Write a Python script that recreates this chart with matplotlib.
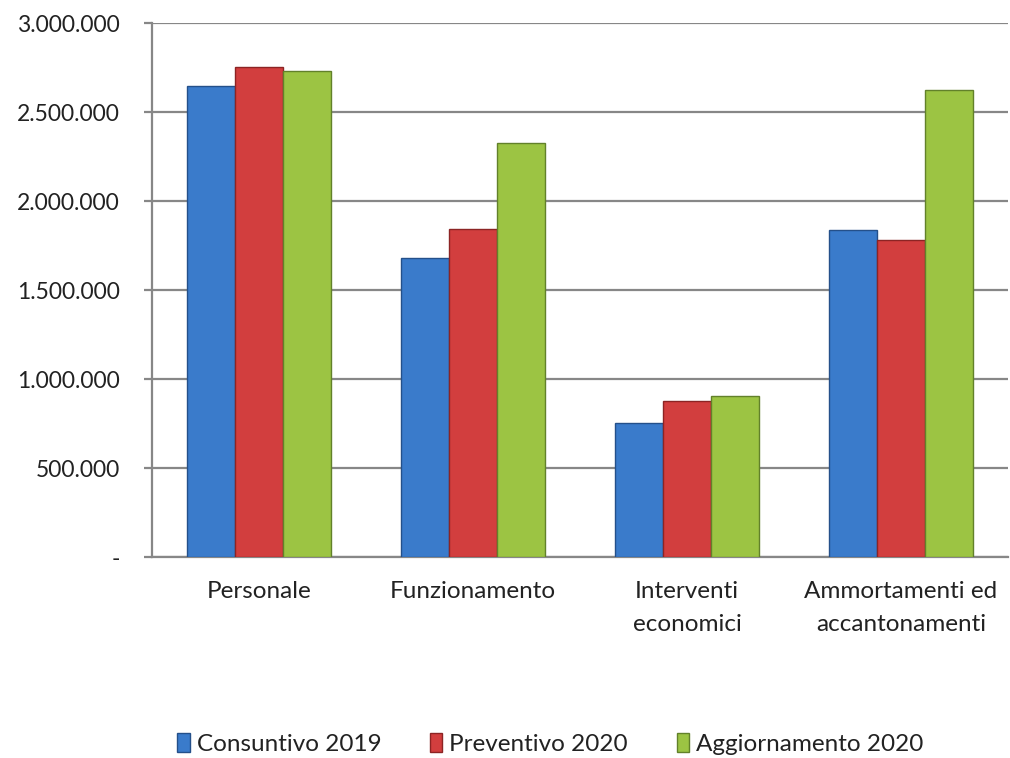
#bar chart: costi per categoria, consuntivo vs preventivo vs aggiornamento

#imports
import numpy as np
import matplotlib.pyplot as plt
from matplotlib.ticker import FuncFormatter

#data
categorie = ['Personale', 'Funzionamento', 'Interventi\neconomici', 'Ammortamenti ed\naccantonamenti']
consuntivo_2019 = [2644000, 1680000, 753000, 1837000]
preventivo_2020 = [2753000, 1845000, 875000, 1779000]
aggiornamento_2020 = [2730000, 2328000, 903000, 2622000]
serie = ['Consuntivo 2019', 'Preventivo 2020', 'Aggiornamento 2020']
colori = ['#3A7BCB', '#D23E3E', '#9CC443']
bordi = ['#24508A', '#8C2424', '#62812A']

plt.rcParams['font.family'] = ['Lato', 'DejaVu Sans']

fig = plt.figure (figsize = (10.1, 7.58), dpi = 100)
ax = fig.add_axes ([0.1505, 0.265, 0.8475, 0.7045])

x = np.arange (len (categorie))
w = 0.225
valori = [consuntivo_2019, preventivo_2020, aggiornamento_2020]
for i in range (3):
    ax.bar (x + (i - 1) * w, valori[i], width = w, color = colori[i], edgecolor = bordi[i],
            linewidth = 1, label = serie[i], zorder = 3)

#axes
ax.set_xlim (-0.5, 3.5)
ax.set_ylim (0, 3000000)
ax.set_yticks (np.arange (0, 3000001, 500000))
ax.yaxis.set_major_formatter (FuncFormatter (lambda v, p: '-' if v == 0 else f'{int(v):,}'.replace (',', '.')))
ax.yaxis.grid (True, color = '#878787', linewidth = 1.6, zorder = 0)
ax.set_xticks (x)
ax.set_xticklabels (categorie, linespacing = 1.7)
ax.tick_params (axis = 'y', length = 6, width = 1.6, color = '#878787', labelsize = 16.5, pad = 17, labelcolor = '#222222')
ax.tick_params (axis = 'x', length = 0, labelsize = 17.5, pad = 17, labelcolor = '#222222')
for s in ['top', 'right']:
    ax.spines[s].set_visible (False)
for s in ['left', 'bottom']:
    ax.spines[s].set_color ('#878787')
    ax.spines[s].set_linewidth (1.6)

#legend
fig.legend (loc = 'center', bbox_to_anchor = (0.545, 0.018), ncol = 3, frameon = False,
            fontsize = 17.5, handlelength = 0.5, handleheight = 0.8, handletextpad = 0.3,
            columnspacing = 2.0, labelcolor = '#222222')

fig.savefig ('out.png', dpi = 100)
